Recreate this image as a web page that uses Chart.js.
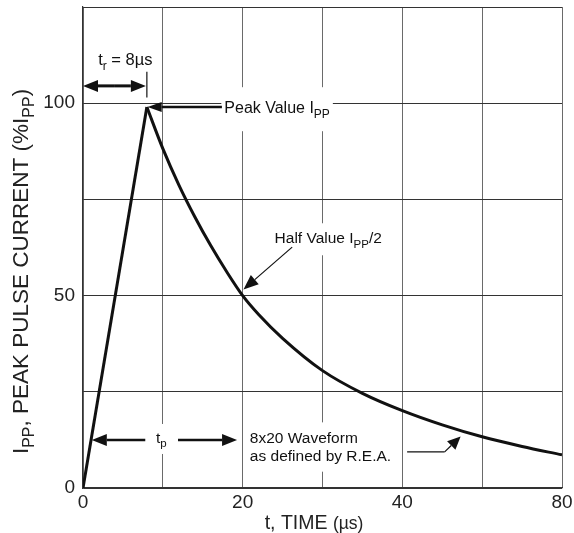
<!DOCTYPE html>
<html>
<head>
<meta charset="utf-8">
<script src="https://cdn.jsdelivr.net/npm/chart.js@4.4.1/dist/chart.umd.min.js"></script>
<style>
  html, body { margin: 0; padding: 0; background: #fff; }
  #wrap { width: 574px; height: 533px; }
</style>
</head>
<body>
<div id="wrap"><canvas id="c" width="574" height="533"></canvas></div>
<script>
// 8x20 µs pulse: linear rise to the peak, then the decay
var riseT = [0, 8];
var riseI = [0, 99];
var decayT = [8, 10, 12, 14, 16, 18, 20, 22, 25, 30, 35, 40, 45, 50, 55, 60];
var decayI = [99, 88.2, 78.8, 70.5, 63, 56.2, 50, 45.1, 38.9, 30.5, 24.6, 20.1, 16.4, 13.3, 10.8, 8.6];
// tick labels as printed (the last grid line is labelled 80)
var xTickLabels = ["0", "", "20", "", "40", "", "80"];
var yTickLabels = ["0", "", "50", "", "100", ""];

var FONT = "'Liberation Sans', Arial, sans-serif";
var INK = "#111";
function font(px) { return px + "px " + FONT; }

function pts(xs, ys) {
  return xs.map(function (x, i) { return { x: x, y: ys[i] }; });
}

// text runs: [text, size, drop]  (drop > 0 = subscript offset)
function runWidth(ctx, runs) {
  var w = 0;
  runs.forEach(function (r) { ctx.font = font(r[1]); w += ctx.measureText(r[0]).width; });
  return w;
}
function drawRuns(ctx, runs, x, y) {
  ctx.textAlign = "left";
  ctx.textBaseline = "alphabetic";
  runs.forEach(function (r) {
    ctx.font = font(r[1]);
    ctx.fillText(r[0], x, y + (r[2] || 0));
    x += ctx.measureText(r[0]).width;
  });
}

function arrow(ctx, x1, y1, x2, y2, lw, hl, hw) {
  var a = Math.atan2(y2 - y1, x2 - x1);
  var bx = x2 - hl * Math.cos(a), by = y2 - hl * Math.sin(a);
  ctx.lineWidth = lw;
  ctx.beginPath(); ctx.moveTo(x1, y1); ctx.lineTo(bx, by); ctx.stroke();
  ctx.beginPath();
  ctx.moveTo(x2, y2);
  ctx.lineTo(bx + hw * Math.sin(a), by - hw * Math.cos(a));
  ctx.lineTo(bx - hw * Math.sin(a), by + hw * Math.cos(a));
  ctx.closePath(); ctx.fill();
}

// annotation texts, placed in data units (t, %I)
var S = 15.5, SUB = 11.5, DROP = 4.5;
var notes = [
  { runs: [["t", 16.5], ["r", 12, DROP], [" = 8\u00b5s", 16.5]], t: 5.3, v: 109.9, align: "center", pad: [6, 8] },
  { runs: [["Peak Value I", 16], ["PP", 12, DROP], ], t: 17.7, v: 97.4, pad: [3, 15] },
  { runs: [["Half Value I", S], ["PP", SUB, DROP], ["/2", S]], t: 24.0, v: 63.6, pad: [4, 9] },
  { runs: [["t", S], ["p", SUB, DROP]], t: 9.8, v: 11.7, align: "center", pad: [6, 8] },
  { runs: [["8x20 Waveform", S]], t: 20.9, v: 11.6, pad: [4, 10] },
  { runs: [["as defined by R.E.A.", S]], t: 20.9, v: 7.1, pad: [4, 8] }
];

function notePos(ctx, chart, n) {
  var x = chart.scales.x.getPixelForValue(n.t);
  var y = chart.scales.y.getPixelForValue(n.v);
  var w = runWidth(ctx, n.runs);
  if (n.align === "center") x -= w / 2;
  return { x: x, y: y, w: w };
}

var annotate = {
  id: "annotate",
  beforeDatasetsDraw: function (chart) {
    var ctx = chart.ctx;
    ctx.save();
    ctx.fillStyle = "#fff";
    notes.forEach(function (n) {
      var p = notePos(ctx, chart, n);
      ctx.fillRect(p.x - n.pad[0], p.y - 11 - n.pad[1], p.w + 2 * n.pad[0], 14 + 2 * n.pad[1]);
    });
    ctx.restore();
  },
  afterDatasetsDraw: function (chart) {
    var ctx = chart.ctx, X = chart.scales.x, Y = chart.scales.y;
    function px(t) { return X.getPixelForValue(t); }
    function py(v) { return Y.getPixelForValue(v); }
    ctx.save();
    ctx.fillStyle = INK;
    ctx.strokeStyle = INK;
    notes.forEach(function (n) {
      var p = notePos(ctx, chart, n);
      drawRuns(ctx, n.runs, p.x, p.y);
    });

    // t_r: double arrow 0 -> 8 µs with end bar
    var ya = py(104.5);
    arrow(ctx, px(4), ya, px(0), ya, 3, 15, 6);
    arrow(ctx, px(4), ya, px(8) - 1, ya, 3, 15, 6);
    ctx.lineWidth = 1.2;
    ctx.beginPath(); ctx.moveTo(px(8), py(101.5)); ctx.lineTo(px(8), py(108.2)); ctx.stroke();

    // peak value pointer
    arrow(ctx, px(17.4), py(99), px(8.1), py(99), 2.5, 14, 5);

    // half value pointer
    arrow(ctx, px(26.2), py(62.6), px(20.1), py(51.6), 1.2, 15, 6);

    // t_p: double arrow
    var yp = py(12.5);
    arrow(ctx, px(7.8), yp, px(1.1), yp, 2.5, 15, 6);
    arrow(ctx, px(11.9), yp, px(19.3), yp, 2.5, 15, 6);

    // waveform pointer
    ctx.lineWidth = 1.2;
    ctx.beginPath(); ctx.moveTo(px(40.6), py(9.4)); ctx.lineTo(px(45.3), py(9.4)); ctx.stroke();
    arrow(ctx, px(45.3), py(9.4), px(47.3), py(13.4), 1.2, 13, 6);

    // axis titles
    ctx.fillStyle = "#222";
    var tx = [["t, TIME ", 19.5], ["(\u00b5s)", 17.5]];
    var wx = runWidth(ctx, tx);
    drawRuns(ctx, tx, 314 - wx / 2, chart.height - 4);

    var ty = [["I", 22.5], ["PP", 16, 6], [", PEAK PULSE CURRENT (%I", 22.5], ["PP", 16, 6], [")", 22.5]];
    var wy = runWidth(ctx, ty);
    ctx.translate(28, 271.5);
    ctx.rotate(-Math.PI / 2);
    drawRuns(ctx, ty, -wy / 2, 0);
    ctx.restore();
  }
};

var lineStyle = {
  borderColor: INK,
  borderWidth: 3,
  pointRadius: 0,
  fill: false,
  borderJoinStyle: "miter"
};

new Chart(document.getElementById("c"), {
  type: "line",
  data: {
    datasets: [
      Object.assign({ data: pts(riseT, riseI), tension: 0 }, lineStyle),
      Object.assign({ data: pts(decayT, decayI), cubicInterpolationMode: "monotone" }, lineStyle)
    ]
  },
  options: {
    responsive: false,
    devicePixelRatio: 1,
    animation: false,
    layout: { padding: { top: 7, right: 12, left: 0, bottom: 0 } },
    plugins: { legend: { display: false }, tooltip: { enabled: false } },
    scales: {
      x: {
        type: "linear",
        min: 0, max: 60,
        afterFit: function (s) { s.height = 45; s.paddingLeft = 0; s.paddingRight = 0; },
        ticks: {
          stepSize: 10,
          padding: 3,
          maxRotation: 0,
          autoSkip: false,
          color: "#222",
          font: { family: FONT, size: 19 },
          callback: function (v, i) { return xTickLabels[i]; }
        },
        grid: { color: "#6a6a6a", lineWidth: 1, drawTicks: false },
        border: { color: "#333", width: 1.2 }
      },
      y: {
        min: 0, max: 125,
        afterFit: function (s) { s.width = 83; s.paddingTop = 0; s.paddingBottom = 0; },
        ticks: {
          stepSize: 25,
          padding: 8,
          autoSkip: false,
          color: "#222",
          font: { family: FONT, size: 19 },
          callback: function (v, i) { return yTickLabels[i]; }
        },
        grid: { color: "#333", lineWidth: 1, drawTicks: false },
        border: { color: "#333", width: 1.2 }
      }
    }
  },
  plugins: [annotate]
});
</script>
</body>
</html>
